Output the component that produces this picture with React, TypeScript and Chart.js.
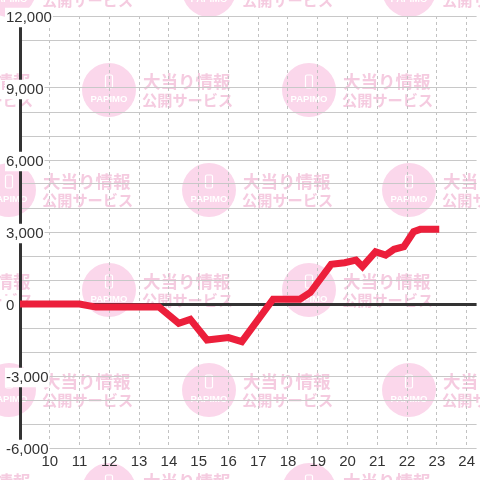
import React, { useEffect, useRef } from 'react';
import { Chart, registerables } from 'chart.js';

Chart.register(...registerables);

// hour of day (x) and cumulative balance (y)
const hours = [9, 11, 11.55, 13.67, 14.33, 14.72, 15.28, 16.0, 16.45, 17.5, 18.4, 18.75, 19.45, 19.9, 20.28, 20.5, 20.94, 21.28, 21.56, 21.89, 22.22, 22.44, 23.08];
const values = [0, 0, -130, -130, -800, -640, -1500, -1400, -1570, 200, 200, 480, 1650, 1720, 1830, 1560, 2180, 2040, 2280, 2390, 3010, 3110, 3110];

const xTickHours = [10, 11, 12, 13, 14, 15, 16, 17, 18, 19, 20, 21, 22, 23, 24];
const xMin = 9;
const xMax = 24 + 1 / 3;
const yMin = -6000;
const yMax = 12000;
const yStep = 1000;
const yLabelStep = 3000;
const hiddenGridValues = [10000];

const watermarkLine1 = '大当り情報';
const watermarkLine2 = '公開サービス';
const watermarkLogo = 'PAPIMO';

const FONT = '"Liberation Sans", Arial, sans-serif';
const RED = '#ec1f3b';

function fmt(v: number): string {
  const s = Math.abs(v).toString().replace(/\B(?=(\d{3})+(?!\d))/g, ',');
  return (v < 0 ? '-' : '') + s;
}

const watermarkPlugin = {
  id: 'watermark',
  beforeDraw(chart: any) {
    const ctx = chart.ctx as CanvasRenderingContext2D;
    ctx.save();
    for (let r = 0; r < 6; r++) {
      const cy = -10 + 100 * r;
      const start = r % 2 === 0 ? 9 : 109;
      for (let cx = start - 200; cx < 560; cx += 200) {
        ctx.fillStyle = '#fbd7eb';
        ctx.beginPath();
        ctx.arc(cx, cy, 27, 0, Math.PI * 2);
        ctx.fill();
        // phone icon
        ctx.strokeStyle = '#ffffff';
        ctx.lineWidth = 1.2;
        ctx.beginPath();
        (ctx as any).roundRect(cx - 3.5, cy - 15, 7, 13, 1.5);
        ctx.stroke();
        ctx.fillStyle = '#ffffff';
        ctx.font = `600 9.5px ${FONT}`;
        ctx.textAlign = 'center';
        ctx.textBaseline = 'middle';
        ctx.fillText(watermarkLogo, cx, cy + 9);
        ctx.fillStyle = '#f5cbe0';
        ctx.textAlign = 'left';
        ctx.font = 'bold 17.5px "Noto Sans CJK JP", sans-serif';
        ctx.fillText(watermarkLine1, cx + 34, cy - 8.5);
        ctx.font = 'bold 15.2px "Noto Sans CJK JP", sans-serif';
        ctx.fillText(watermarkLine2, cx + 33, cy + 10.5);
      }
    }
    ctx.restore();
  },
};

export default function App() {
  const ref = useRef<HTMLCanvasElement>(null);

  useEffect(() => {
    const canvas = ref.current;
    if (!canvas) return;
    const chart = new Chart(canvas, {
      type: 'line',
      data: {
        datasets: [
          {
            data: hours.map((h, i) => ({ x: h, y: values[i] })),
            borderColor: RED,
            backgroundColor: RED,
            borderWidth: 7,
            pointRadius: 0,
            pointHoverRadius: 0,
            fill: false,
            tension: 0,
          },
        ],
      },
      options: {
        animation: false,
        responsive: false,
        events: [],
        layout: { padding: { left: 20, top: 16, right: 0, bottom: 4 } },
        plugins: { legend: { display: false }, tooltip: { enabled: false } },
        scales: {
          x: {
            type: 'linear',
            min: xMin,
            max: xMax,
            afterBuildTicks: (scale: any) => {
              scale.ticks = xTickHours.map((v) => ({ value: v }));
            },
            grid: { color: '#c2c2c2', lineWidth: 1, drawTicks: false },
            border: { display: false, dash: [3, 3] },
            ticks: {
              z: 1,
              color: '#333',
              font: { family: FONT, size: 15, lineHeight: 1.2 },
              padding: 5,
              maxRotation: 0,
              autoSkip: false,
            },
          },
          y: {
            type: 'linear',
            min: yMin,
            max: yMax,
            grid: {
              color: (c: any) =>
                c.tick && c.tick.value === 0
                  ? '#333'
                  : c.tick && hiddenGridValues.includes(c.tick.value)
                  ? 'rgba(0,0,0,0)'
                  : '#c8c8c8',
              lineWidth: (c: any) => (c.tick && c.tick.value === 0 ? 3 : 1),
              drawTicks: true,
              tickLength: 28,
              tickColor: 'rgba(0,0,0,0)',
            },
            border: { display: true, color: '#333', width: 3 },
            ticks: {
              stepSize: yStep,
              autoSkip: false,
              mirror: true,
              crossAlign: 'near',
              padding: -14,
              labelOffset: 2,
              color: '#333',
              font: { family: FONT, size: 15, lineHeight: 1.1 },
              callback: (v: any) => {
                const n = Number(v);
                return n % yLabelStep === 0 ? fmt(n) : '';
              },
              showLabelBackdrop: true,
              backdropColor: (c: any) =>
                c.tick && c.tick.value % yLabelStep === 0 ? '#ffffff' : 'rgba(0,0,0,0)',
              backdropPadding: { top: 2, bottom: 1, left: 1, right: 1 },
            },
          },
        },
      },
      plugins: [watermarkPlugin],
    } as any);
    return () => chart.destroy();
  }, []);

  return (
    <div style={{ position: 'fixed', left: 0, top: 0, width: 480, height: 480, background: '#fff' }}>
      <canvas ref={ref} width={480} height={480} style={{ display: 'block' }} />
    </div>
  );
}
